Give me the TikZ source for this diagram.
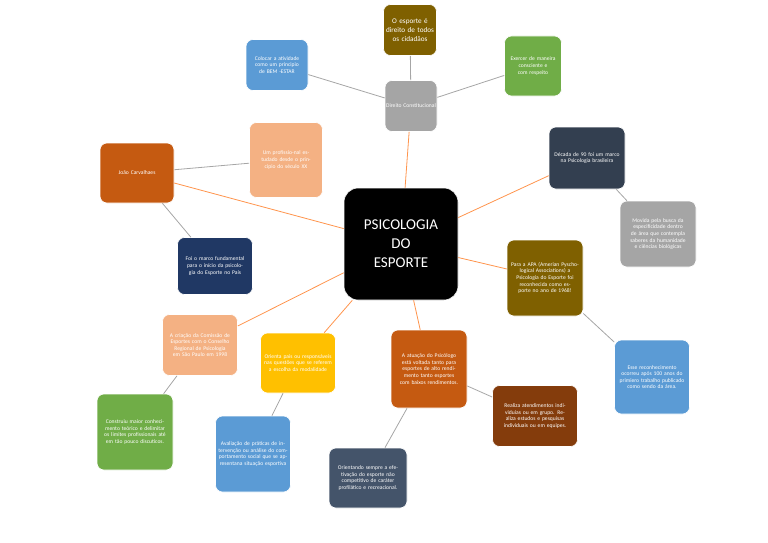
\documentclass[tikz,border=0pt]{standalone}
\usepackage{fontspec}
\setmainfont{Carlito}
\begin{document}
\begin{tikzpicture}[x=1pt,y=-1pt,
 bx/.style={rounded corners=7pt,draw=white,line width=0.6pt,text=white,align=center,font=\fontsize{5.6}{6.6}\selectfont,inner sep=1pt,minimum width=#1},
 oc/.style={draw=orange!80!red!70,line width=0.8pt},
 gc/.style={draw=gray!70,line width=0.8pt}]
\useasboundingbox (0,0) rectangle (768,543);
\definecolor{olive}{HTML}{7F6000}\definecolor{sky}{HTML}{5B9BD5}\definecolor{grayb}{HTML}{A5A5A5}
\definecolor{grn}{HTML}{70AD47}\definecolor{peach}{HTML}{F4B183}\definecolor{rust}{HTML}{C55A11}
\definecolor{slate}{HTML}{333F50}\definecolor{navy}{HTML}{203864}\definecolor{gold}{HTML}{FFC000}
\definecolor{brown}{HTML}{843C0C}\definecolor{slate2}{HTML}{44546A}
\node[bx=114pt,minimum height=112pt,fill=black,rounded corners=14pt,font=\fontsize{15}{19}\selectfont,text width=110pt] (c) at (401,244) {PSICOLOGIA\\DO\\ESPORTE};
\node[bx=53pt,minimum height=51pt,fill=olive,text width=50pt,font=\fontsize{7.2}{8.8}\selectfont] (oe) at (410,30) {O esporte é direito de todos os cidadãos};
\node[bx=62pt,minimum height=51pt,fill=sky,text width=56pt] (col) at (277,65) {Colocar a atividade como um principio de BEM -ESTAR};
\node[bx=52pt,minimum height=51pt,fill=grayb,text width=50pt] (dc) at (411,106) {Direito Constitucional};
\node[bx=57pt,minimum height=60pt,fill=grn,text width=50pt] (ex) at (533,66) {Exercer de maneira consciente e com respeito};
\node[bx=73pt,minimum height=75pt,fill=peach,text width=66pt] (up) at (286,160) {Um profissio-nal estudado desde o principio do século XX};
\node[bx=74pt,minimum height=60pt,fill=rust,text width=68pt] (jc) at (137,173) {João Carvalhaes};
\node[bx=76pt,minimum height=62pt,fill=slate,text width=70pt] (d90) at (587,158) {Década de 90 foi um marco na Psicologia brasileira};
\node[bx=76pt,minimum height=66pt,fill=grayb,text width=70pt] (mov) at (658,234) {Movida pela busca da especificidade dentro de área que contempla saberes da humanidade e ciências biológicas};
\node[bx=75pt,minimum height=57pt,fill=navy,text width=68pt] (fm) at (215,266) {Foi o marco fundamental para o início da psicologia do Esporte no País};
\node[bx=76pt,minimum height=76pt,fill=olive,text width=72pt] (apa) at (545,278) {Para a APA (Amerian Pyschological Associations) a Psicologia do Esporte foi reconhecida como esporte no ano de 1968!};
\node[bx=75pt,minimum height=61pt,fill=peach,text width=72pt] (cr) at (200,345) {A criação da Comissão de Esportes com o Conselho Regional de Psicologia em São Paulo em 1998};
\node[bx=75pt,minimum height=60pt,fill=gold,text width=70pt] (op) at (298,363) {Orienta pais ou responsáveis nas questões que se referem a escolha da modalidade};
\node[bx=76pt,minimum height=78pt,fill=rust,text width=68pt] (at) at (429,369) {A atuação do Psicólogo está voltada tanto para esportes de alto rendimento tanto esportes com baixos rendimentos.};
\node[bx=75pt,minimum height=74pt,fill=sky,text width=66pt] (es) at (652,377) {Esse reconhecimento ocorreu após 100 anos do primiero trabalho publicado como sendo da área.};
\node[bx=76pt,minimum height=76pt,fill=grn,text width=70pt] (co) at (135,432) {Construiu maior conhecimento teórico e delimitar os limites profissionais até em tão pouco discuticos.};
\node[bx=75pt,minimum height=76pt,fill=sky,text width=70pt] (av) at (253,454) {Avaliação de práticas de intervenção ou análise do comportamento social que se apresentana situação esportiva};
\node[bx=85pt,minimum height=61pt,fill=brown,text width=80pt] (re) at (535,416) {Realiza atendimentos individuias ou em grupo. Realiza estudos e pesquisas individuais ou em equipes.};
\node[bx=78pt,minimum height=60pt,fill=slate2,text width=72pt] (or) at (368,478) {Orientando sempre a efetivação do esporte não competitivo de caráter profilático e recreacional.};
\begin{scope}[on background layer/.try]
\end{scope}
\draw[oc] (c) -- (dc); \draw[oc] (c) -- (jc); \draw[oc] (c) -- (d90); \draw[oc] (c) -- (apa);
\draw[oc] (c) -- (cr); \draw[oc] (c) -- (op); \draw[oc] (c) -- (at);
\draw[gc] (dc) -- (oe); \draw[gc] (dc) -- (col); \draw[gc] (dc) -- (ex);
\draw[gc] (jc) -- (up); \draw[gc] (jc) -- (fm); \draw[gc] (d90) -- (mov); \draw[gc] (apa) -- (es);
\draw[gc] (cr) -- (co); \draw[gc] (op) -- (av); \draw[gc] (at) -- (re); \draw[gc] (at) -- (or);
\end{tikzpicture}
\end{document}
